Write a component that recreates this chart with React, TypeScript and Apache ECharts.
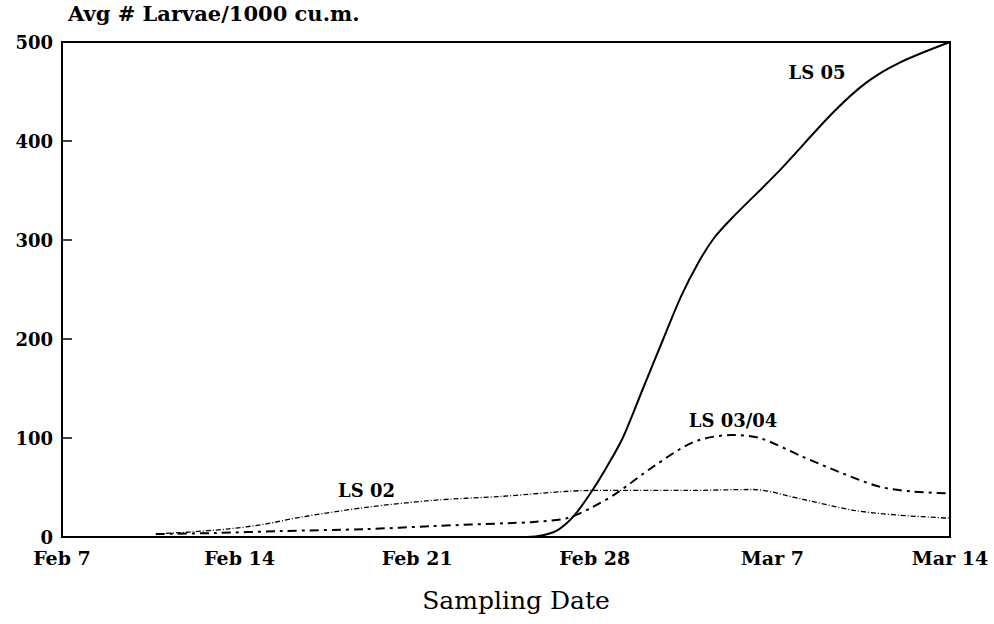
import React, { useEffect, useRef } from "react";
import * as echarts from "echarts";

// x = days since Feb 7
const xTickLabels = ["Feb 7", "Feb 14", "Feb 21", "Feb 28", "Mar 7", "Mar 14"];
const yTicks = [0, 100, 200, 300, 400, 500];

const ls02Days = [3.7, 5, 6.5, 8, 9.4, 12, 14.6, 17.3, 20.9, 24.6, 27.2, 29.2, 31.2, 33, 35];
const ls02Vals = [3, 5, 8, 13, 20, 30, 37, 41, 47, 47, 48, 38, 27, 22, 19];

const ls0304Days = [3.7, 6, 8.6, 12, 14.6, 17.6, 18.5, 19.9, 20.9, 21.9, 23.3, 24.9, 26.4, 27.5, 29.2, 30.7, 32.2, 33.5, 35];
const ls0304Vals = [3, 4, 6, 8, 11, 14, 15, 19, 30, 45, 71, 96, 103, 100, 81, 65, 51, 46, 44];

const ls05Days = [17, 18.3, 19, 19.6, 20.2, 20.9, 21.5, 22.1, 22.9, 23.7, 24.4, 25.1, 25.7, 26.4, 28.2, 30.4, 31.7, 33.0, 35];
const ls05Vals = [0, 0, 2, 8, 22, 47, 72, 100, 150, 200, 243, 278, 302, 322, 368, 429, 459, 479, 500];

const seriesNames = ["LS 02", "LS 03/04", "LS 05"];
const labelPos: [number, number][] = [[12.0, 46.5], [26.45, 118], [29.76, 469]];

const zip = (a: number[], b: number[]) => a.map((d, i) => [d, b[i]]);

const FONT = "DejaVu Serif";

export default function App() {
  const ref = useRef<HTMLDivElement>(null);
  useEffect(() => {
    if (!ref.current) return;
    const chart = echarts.init(ref.current, undefined, { renderer: "svg" });
    const mkLabel = (i: number) => ({
      silent: true,
      symbol: "circle",
      symbolSize: 1,
      itemStyle: { color: "rgba(0,0,0,0)" },
      data: [
        {
          coord: labelPos[i],
          label: {
            show: true,
            formatter: seriesNames[i],
            position: "inside",
            color: "#000",
            fontFamily: FONT,
            fontWeight: "bold",
            fontSize: 18,
          },
        },
      ],
    });
    chart.setOption({
      animation: false,
      backgroundColor: "#fff",
      grid: {
        left: 62,
        right: 44,
        top: 42,
        bottom: 87,
        show: true,
        borderColor: "#000",
        borderWidth: 2,
        backgroundColor: "transparent",
      },
      xAxis: {
        type: "value",
        min: 0,
        max: 35,
        interval: 7,
        splitLine: { show: false },
        axisLine: { show: true, lineStyle: { color: "#000", width: 2 } },
        axisTick: { show: false },
        axisLabel: {
          color: "#000",
          fontFamily: FONT,
          fontWeight: "bold",
          fontSize: 19,
          margin: 11,
          formatter: (v: number) => xTickLabels[Math.round(v / 7)] ?? "",
        },
      },
      yAxis: {
        type: "value",
        min: 0,
        max: 500,
        interval: 100,
        splitLine: { show: false },
        axisLine: { show: true, lineStyle: { color: "#000", width: 2 } },
        axisTick: { show: true, inside: true, length: 10, lineStyle: { color: "#000", width: 1.5 } },
        axisLabel: {
          color: "#000",
          fontFamily: FONT,
          fontWeight: "bold",
          fontSize: 18,
          margin: 9,
          formatter: (v: number) => (yTicks.includes(v) ? String(v) : ""),
        },
      },
      graphic: [
        {
          type: "text",
          left: 68,
          top: 3,
          style: {
            text: "Avg # Larvae/1000 cu.m.",
            fill: "#000",
            font: `bold 21px "${FONT}"`,
          },
        },
        {
          type: "text",
          x: 516,
          y: 600,
          style: {
            text: "Sampling Date",
            fill: "#000",
            font: `25px "${FONT}"`,
            align: "center",
            verticalAlign: "middle",
          },
        },
      ],
      series: [
        {
          name: seriesNames[0],
          type: "line",
          data: zip(ls02Days, ls02Vals),
          smooth: 0.3,
          symbol: "none",
          lineStyle: { color: "#000", width: 1.3, type: [5, 2, 1, 2] },
          markPoint: mkLabel(0),
        },
        {
          name: seriesNames[1],
          type: "line",
          data: zip(ls0304Days, ls0304Vals),
          smooth: 0.3,
          symbol: "none",
          lineStyle: { color: "#000", width: 2, type: [9, 5, 3, 5] },
          markPoint: mkLabel(1),
        },
        {
          name: seriesNames[2],
          type: "line",
          data: zip(ls05Days, ls05Vals),
          smooth: 0.3,
          symbol: "none",
          lineStyle: { color: "#000", width: 2 },
          markPoint: mkLabel(2),
        },
      ],
    });
    return () => chart.dispose();
  }, []);
  return <div ref={ref} style={{ width: 994, height: 624, position: "absolute", left: 0, top: 0 }} />;
}
